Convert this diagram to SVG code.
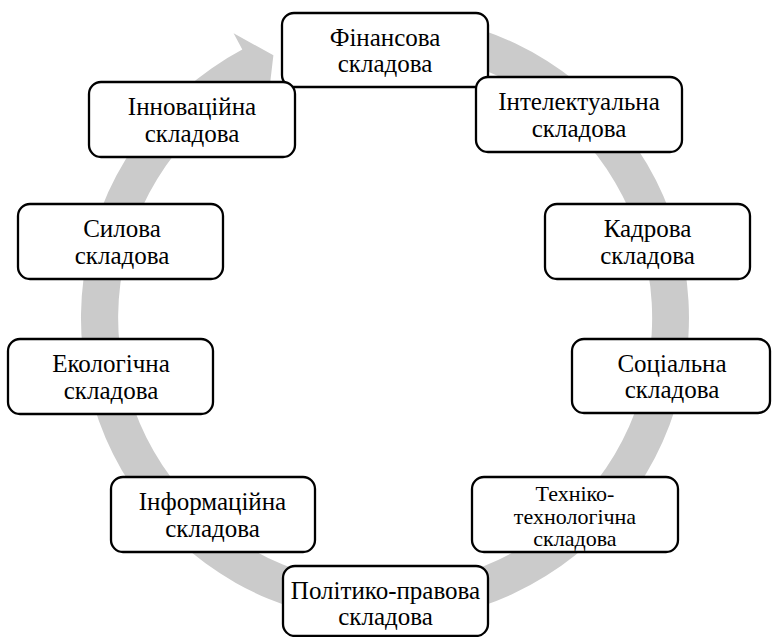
<svg xmlns="http://www.w3.org/2000/svg" width="772" height="637" viewBox="0 0 772 637">
<defs>
<style>
.box{fill:#ffffff;stroke:#000000;stroke-width:2.3}
.ring{fill:#cbcbcb;stroke:none}
</style>
</defs>
<rect x="0" y="0" width="772" height="637" fill="#ffffff"/>
<g id="connectors">
<path class="ring" d="M 411.5,15.2 A 304 304 0 1 1 242.3,49.6 L 233.6,33.3 L 273.4,55.2 L 268.3,98.6 L 259.7,82.3 A 267 267 0 1 0 408.3,52.0 Z"/>
</g>
<g id="nodes" font-family="Liberation Serif" font-size="25" fill="#000000" text-anchor="middle">
<g id="node-finansova">
<rect class="box" x="282" y="13" width="206" height="74" rx="12"/>
<text x="385" y="45.5">Фінансова</text>
<text x="385" y="72">складова</text>
</g>
<g id="node-intelektualna">
<rect class="box" x="476" y="77" width="206" height="75" rx="12"/>
<text x="579" y="110">Інтелектуальна</text>
<text x="579" y="136.5">складова</text>
</g>
<g id="node-kadrova">
<rect class="box" x="545" y="204" width="205" height="75" rx="12"/>
<text x="647.5" y="237">Кадрова</text>
<text x="647.5" y="263.5">складова</text>
</g>
<g id="node-sotsialna">
<rect class="box" x="572" y="339" width="198" height="74" rx="12"/>
<text x="672" y="371.5">Соціальна</text>
<text x="672" y="398">складова</text>
</g>
<g id="node-tekhniko" font-size="22">
<rect class="box" x="472" y="477" width="206" height="75" rx="12"/>
<text x="575" y="501">Техніко-</text>
<text x="575" y="523.5">технологічна</text>
<text x="575" y="546">складова</text>
</g>
<g id="node-polityko">
<rect class="box" x="283" y="566" width="205" height="70" rx="12"/>
<text x="385.5" y="598.5">Політико-правова</text>
<text x="385.5" y="624.5">складова</text>
</g>
<g id="node-informatsiina">
<rect class="box" x="111" y="477" width="204" height="75" rx="12"/>
<text x="212.5" y="510">Інформаційна</text>
<text x="212.5" y="536.5">складова</text>
</g>
<g id="node-ekolohichna">
<rect class="box" x="8" y="339" width="205" height="75" rx="12"/>
<text x="111" y="372">Екологічна</text>
<text x="111" y="398.5">складова</text>
</g>
<g id="node-sylova">
<rect class="box" x="18" y="204" width="205" height="75" rx="12"/>
<text x="122" y="237">Силова</text>
<text x="122" y="263.5">складова</text>
</g>
<g id="node-innovatsiina">
<rect class="box" x="89" y="82" width="206" height="75" rx="12"/>
<text x="192" y="115">Інноваційна</text>
<text x="192" y="141.5">складова</text>
</g>
</g>
</svg>
